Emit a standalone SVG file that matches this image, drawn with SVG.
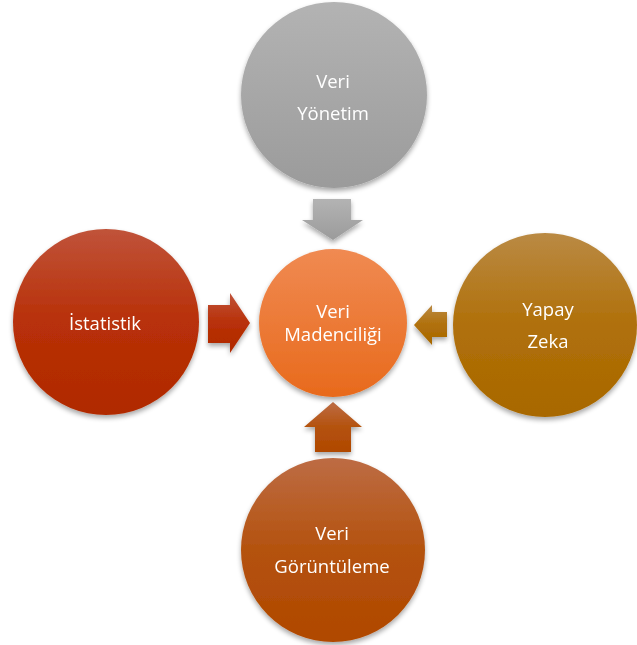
<svg xmlns="http://www.w3.org/2000/svg" width="637" height="645" viewBox="0 0 637 645">
  <defs>
    <linearGradient id="gGray" x1="0" y1="0" x2="0" y2="1">
      <stop offset="0" stop-color="#b3b3b3"/>
      <stop offset="1" stop-color="#9b9b9b"/>
    </linearGradient>
    <linearGradient id="gOrange" x1="0" y1="0" x2="0" y2="1">
      <stop offset="0" stop-color="#f08a52"/>
      <stop offset="1" stop-color="#e86a1c"/>
    </linearGradient>
    <linearGradient id="gRed" x1="0" y1="0" x2="0" y2="1">
      <stop offset="0" stop-color="#c0533a"/>
      <stop offset="0.5" stop-color="#b83008"/>
      <stop offset="1" stop-color="#b02a00"/>
    </linearGradient>
    <linearGradient id="gGold" x1="0" y1="0" x2="0" y2="1">
      <stop offset="0" stop-color="#ba8a44"/>
      <stop offset="0.5" stop-color="#b0700a"/>
      <stop offset="1" stop-color="#a86800"/>
    </linearGradient>
    <linearGradient id="gBrown" x1="0" y1="0" x2="0" y2="1">
      <stop offset="0" stop-color="#bd6c44"/>
      <stop offset="0.5" stop-color="#b4520e"/>
      <stop offset="1" stop-color="#b04800"/>
    </linearGradient>
    <filter id="shadow" x="-20%" y="-20%" width="140%" height="145%">
      <feGaussianBlur in="SourceAlpha" stdDeviation="2.5"/>
      <feOffset dx="0" dy="3" result="b"/>
      <feComponentTransfer><feFuncA type="linear" slope="0.35"/></feComponentTransfer>
      <feMerge><feMergeNode/><feMergeNode in="SourceGraphic"/></feMerge>
    </filter>
  </defs>
  <style>
    text { font-family: "Open Sans", "Noto Sans", "Liberation Sans", sans-serif; font-size: 18.5px; fill: #ffffff; text-anchor: middle; }
  </style>

  <rect width="637" height="645" fill="#ffffff"/>

  <g id="connectors" filter="url(#shadow)">
    <!-- down arrow from top node -->
    <polygon points="313,199 351,199 351,220 363,220 333,240 302,220 313,220" fill="url(#gGray)"/>
    <!-- right arrow from left node -->
    <polygon points="208,305 230,305 230,293 250,323 230,353 230,343 208,343" fill="url(#gRed)"/>
    <!-- left arrow from right node -->
    <polygon points="447,312 432,312 432,305 414,325 432,345 432,337 447,337" fill="url(#gGold)"/>
    <!-- up arrow from bottom node -->
    <polygon points="315,452 351,452 351,427 362,427 333,402 304,427 315,427" fill="url(#gBrown)"/>
  </g>

  <g id="node-yonetim" filter="url(#shadow)">
    <circle cx="334" cy="95" r="93" fill="url(#gGray)"/>
    <text x="333" y="88">Veri</text>
    <text x="333" y="120">Yönetim</text>
  </g>

  <g id="node-madencilik" filter="url(#shadow)">
    <circle cx="333" cy="323" r="74" fill="url(#gOrange)"/>
    <text x="333" y="318">Veri</text>
    <text x="333" y="341">Madenciliği</text>
  </g>

  <g id="node-istatistik" filter="url(#shadow)">
    <circle cx="106" cy="322" r="93" fill="url(#gRed)"/>
    <text x="105" y="330">İstatistik</text>
  </g>

  <g id="node-yapay-zeka" filter="url(#shadow)">
    <circle cx="545" cy="325" r="92" fill="url(#gGold)"/>
    <text x="548" y="316">Yapay</text>
    <text x="548" y="348">Zeka</text>
  </g>

  <g id="node-goruntuleme" filter="url(#shadow)">
    <circle cx="333" cy="550" r="92" fill="url(#gBrown)"/>
    <text x="332" y="540">Veri</text>
    <text x="332" y="573">Görüntüleme</text>
  </g>
</svg>
